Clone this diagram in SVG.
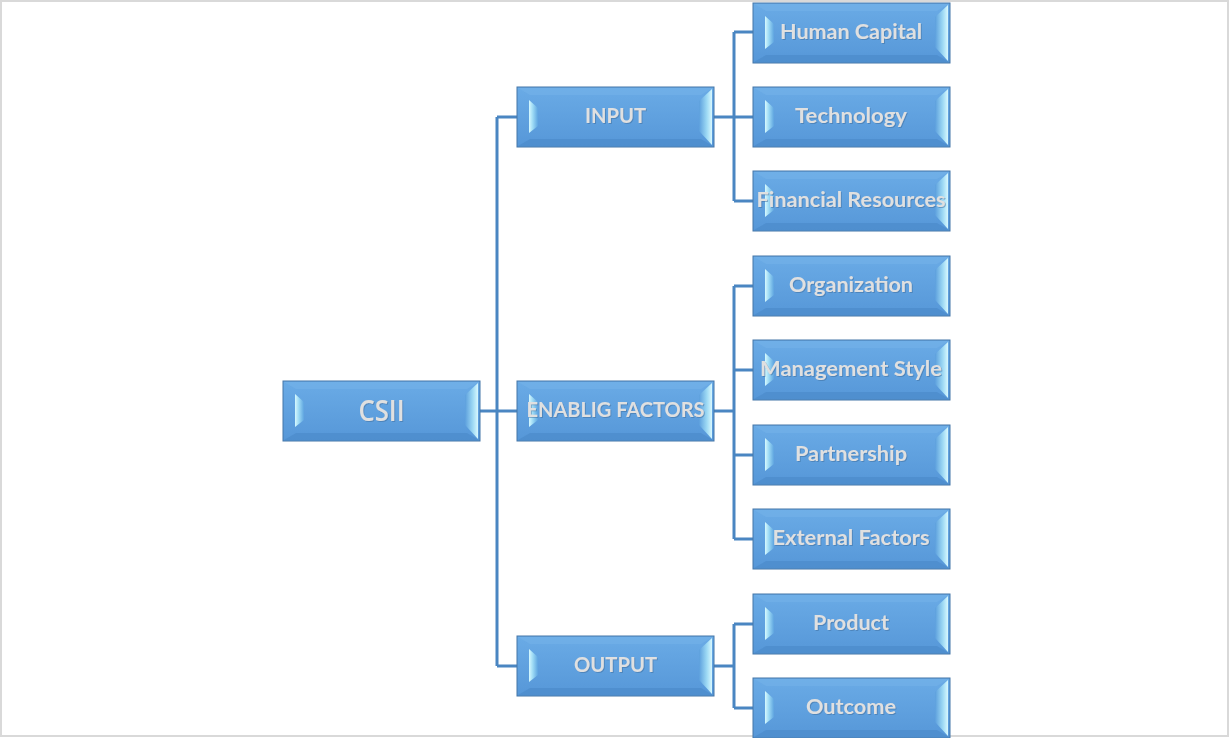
<svg xmlns="http://www.w3.org/2000/svg" xmlns:xlink="http://www.w3.org/1999/xlink" width="1230" height="738" viewBox="0 0 1230 738">
  <defs>
    <linearGradient id="face" x1="0" y1="0" x2="0" y2="1">
      <stop offset="0" stop-color="#6aabe6"/>
      <stop offset="1" stop-color="#5697d8"/>
    </linearGradient>
    <linearGradient id="hlL" x1="0" y1="0" x2="1" y2="0">
      <stop offset="0" stop-color="#d6f9fe"/>
      <stop offset="0.45" stop-color="#9ad8f4"/>
      <stop offset="1" stop-color="#5ea4e0"/>
    </linearGradient>
    <linearGradient id="hlR" x1="0" y1="0" x2="1" y2="0">
      <stop offset="0" stop-color="#5c9fdd"/>
      <stop offset="0.6" stop-color="#9dd9f4"/>
      <stop offset="1" stop-color="#d8f8fe"/>
    </linearGradient>
    <g id="box">
      <rect x="0" y="0" width="197" height="60" fill="url(#face)" stroke="#4576a8" stroke-width="1"/>
      <polygon points="1,1 196,1 184,8 13,8" fill="#76b4ea" opacity="0.5"/>
      <polygon points="1,59 196,59 184,52 13,52" fill="#4a88c8" opacity="0.6"/>
      <polygon points="12,13 21,21 21,39 12,46" fill="url(#hlL)"/>
      <polygon points="182,14 195,2 195,58 182,44" fill="url(#hlR)"/>
    </g>
    <filter id="ts" x="-10%" y="-30%" width="120%" height="160%">
      <feDropShadow dx="1" dy="1" stdDeviation="0.6" flood-color="#3a6a9a" flood-opacity="0.5"/>
    </filter>
  </defs>
  <style>
    .lbl { font-family: Lato, "Open Sans", "Liberation Sans", sans-serif; font-weight: bold; font-size: 20.5px; fill: #e0e0e0; text-anchor: middle; filter: url(#ts); }
    .root { font-family: "Open Sans", Lato, "Liberation Sans", sans-serif; font-weight: 600; font-size: 28px; fill: #e0e0e0; text-anchor: middle; filter: url(#ts); }
    .conn { fill: none; stroke: #4a86c2; stroke-width: 3; }
  </style>
  <rect x="1" y="1" width="1227" height="735" fill="#ffffff" stroke="#d9d9d9" stroke-width="2"/>

  <g id="connectors">
    <path class="conn" d="M480,411 H517 M497,117 V666 M497,117 H517 M497,666 H517"/>
    <path class="conn" d="M714,117 H753 M734,32 V201 M734,32 H753 M734,201 H753"/>
    <path class="conn" d="M714,411 H734 M734,286 V539 M734,286 H753 M734,370 H753 M734,455 H753 M734,539 H753"/>
    <path class="conn" d="M714,666 H734 M734,624 V708 M734,624 H753 M734,708 H753"/>
  </g>

  <g id="n-csii" transform="translate(283,381)">
    <use href="#box"/>
    <text class="root" x="98.5" y="40" textLength="46" lengthAdjust="spacingAndGlyphs">CSII</text>
  </g>

  <g id="n-input" transform="translate(517,87)">
    <use href="#box"/>
    <text class="lbl" x="98.5" y="36" textLength="61" lengthAdjust="spacingAndGlyphs">INPUT</text>
  </g>
  <g id="n-enablig" transform="translate(517,381)">
    <use href="#box"/>
    <text class="lbl" x="98.5" y="36" textLength="178" lengthAdjust="spacingAndGlyphs">ENABLIG FACTORS</text>
  </g>
  <g id="n-output" transform="translate(517,636)">
    <use href="#box"/>
    <text class="lbl" x="98.5" y="36" textLength="83" lengthAdjust="spacingAndGlyphs">OUTPUT</text>
  </g>

  <g id="n-human" transform="translate(753,3)">
    <use href="#box"/>
    <text class="lbl" x="98" y="36" textLength="142" lengthAdjust="spacingAndGlyphs">Human Capital</text>
  </g>
  <g id="n-tech" transform="translate(753,87)">
    <use href="#box"/>
    <text class="lbl" x="98" y="36" textLength="112" lengthAdjust="spacingAndGlyphs">Technology</text>
  </g>
  <g id="n-fin" transform="translate(753,171)">
    <use href="#box"/>
    <text class="lbl" x="98" y="36" textLength="189" lengthAdjust="spacingAndGlyphs">Financial Resources</text>
  </g>
  <g id="n-org" transform="translate(753,256)">
    <use href="#box"/>
    <text class="lbl" x="98" y="36" textLength="124" lengthAdjust="spacingAndGlyphs">Organization</text>
  </g>
  <g id="n-mgmt" transform="translate(753,340)">
    <use href="#box"/>
    <text class="lbl" x="98" y="36" textLength="182" lengthAdjust="spacingAndGlyphs">Management Style</text>
  </g>
  <g id="n-partner" transform="translate(753,425)">
    <use href="#box"/>
    <text class="lbl" x="98" y="36" textLength="112" lengthAdjust="spacingAndGlyphs">Partnership</text>
  </g>
  <g id="n-external" transform="translate(753,509)">
    <use href="#box"/>
    <text class="lbl" x="98" y="36" textLength="157" lengthAdjust="spacingAndGlyphs">External Factors</text>
  </g>
  <g id="n-product" transform="translate(753,594)">
    <use href="#box"/>
    <text class="lbl" x="98" y="36" textLength="76" lengthAdjust="spacingAndGlyphs">Product</text>
  </g>
  <g id="n-outcome" transform="translate(753,678)">
    <use href="#box"/>
    <text class="lbl" x="98" y="36" textLength="90" lengthAdjust="spacingAndGlyphs">Outcome</text>
  </g>
</svg>
